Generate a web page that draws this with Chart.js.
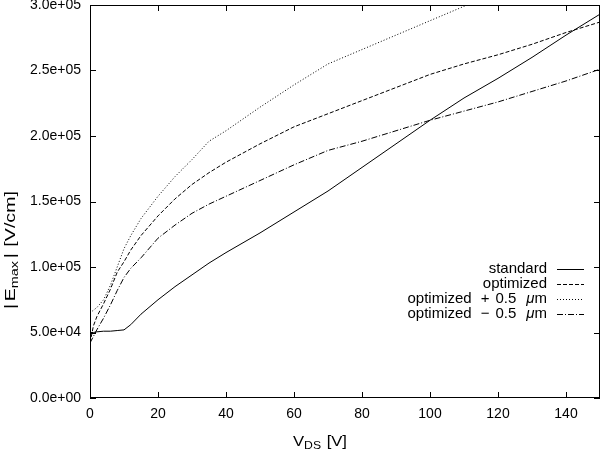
<!DOCTYPE html>
<html>
<head>
<meta charset="utf-8">
<title>Emax vs VDS</title>
<script src="https://cdn.jsdelivr.net/npm/chart.js@4.4.1/dist/chart.umd.min.js"></script>
<style>
    html, body { margin: 0; padding: 0; background: #fff; }
    #wrap { width: 601px; height: 453px; position: relative; }
</style>
</head>
<body>
<div id="wrap"><canvas id="emaxChart" width="601" height="453"></canvas></div>
<script>
// drain voltage grid (V) shared by all curves
const vds = [0, 1, 2, 4, 6, 8, 10, 12, 15, 20, 25, 30, 35, 40, 50, 60, 70, 80, 90, 100, 110, 120, 130, 140, 150];

// |Emax| in V/cm
const standard = [5.0e4, 5.0e4, 5.05e4, 5.1e4, 5.1e4, 5.15e4, 5.2e4, 5.6e4, 6.4e4, 7.5e4, 8.5e4, 9.4e4, 1.03e5, 1.11e5, 1.26e5, 1.42e5, 1.58e5, 1.76e5, 1.94e5, 2.12e5, 2.29e5, 2.44e5, 2.60e5, 2.77e5, 2.93e5];
const optimized = [4.2e4, 5.5e4, 6.2e4, 7.2e4, 8.3e4, 9.6e4, 1.04e5, 1.13e5, 1.24e5, 1.39e5, 1.52e5, 1.63e5, 1.72e5, 1.80e5, 1.94e5, 2.07e5, 2.17e5, 2.27e5, 2.37e5, 2.47e5, 2.55e5, 2.62e5, 2.70e5, 2.79e5, 2.87e5];
const optPlus = [6.5e4, 6.7e4, 6.9e4, 7.5e4, 8.6e4, 1.0e5, 1.14e5, 1.24e5, 1.37e5, 1.54e5, 1.69e5, 1.82e5, 1.96e5, 2.04e5, 2.22e5, 2.39e5, 2.55e5, 2.66e5, 2.77e5, 2.88e5, 2.99e5, 3.09e5, null, null, null];
const optMinus = [4.2e4, 4.7e4, 5.2e4, 6.1e4, 7.1e4, 8.2e4, 9.2e4, 9.9e4, 1.07e5, 1.22e5, 1.32e5, 1.41e5, 1.48e5, 1.54e5, 1.66e5, 1.78e5, 1.89e5, 1.96e5, 2.04e5, 2.12e5, 2.19e5, 2.26e5, 2.34e5, 2.42e5, 2.51e5];

const seriesNames = ['standard', 'optimized', 'optimized + 0.5 \u03bcm', 'optimized \u2212 0.5 \u03bcm'];
const xTicks = { min: 0, max: 150, step: 20 };
const yTicks = { min: 0, max: 3e5, step: 5e4 };

(function () {
    'use strict';

    const LABEL_FONT = '15px "Liberation Sans", Arial, sans-serif';
    const SUB_FONT = '11px "Liberation Sans", Arial, sans-serif';
    const dashes = [[], [4, 2], [1, 2], [6, 2, 1, 2]];

    function toPoints(ys) {
        return vds.map((v, i) => ({ x: v, y: ys[i] }));
    }

    // gnuplot style exponent: 2.5e+05
    function expLabel(v) {
        if (v === 0) return '0.0e+00';
        const parts = v.toExponential(1).split('e');
        const sign = parts[1][0];
        const digits = parts[1].slice(1).padStart(2, '0');
        return parts[0] + 'e' + sign + digits;
    }

    // text pieces [{t, font, dy}] or {gap}, drawn left to right; returns width
    function drawRuns(ctx, runs, x, y, measureOnly) {
        let w = 0;
        runs.forEach(r => {
            if (r.gap) { w += r.gap; return; }
            ctx.font = r.font;
            if (!measureOnly) ctx.fillText(r.t, x + w, y + (r.dy || 0));
            w += ctx.measureText(r.t).width;
        });
        return w;
    }

    // legend entry like "optimized + 0.5 μm" with math-ish spacing
    function legendRuns(name) {
        const m = name.match(/^(\S+) (\+|\u2212) ([\d.]+) \u03bc(m)$/);
        if (!m) return [{ t: name, font: LABEL_FONT }];
        return [
            { t: m[1], font: LABEL_FONT }, { gap: 9 },
            { t: m[2], font: LABEL_FONT }, { gap: 6 },
            { t: m[3], font: LABEL_FONT }, { gap: 10 },
            { t: '\u03bc', font: 'italic ' + LABEL_FONT },
            { t: m[4], font: LABEL_FONT }
        ];
    }

    const framePlugin = {
        id: 'gnuFrame',
        afterDatasetsDraw(chart) {
            const ctx = chart.ctx;
            const a = chart.chartArea;
            const xs = chart.scales.x;
            const ys = chart.scales.y;
            const tl = 6;

            ctx.save();
            ctx.strokeStyle = '#000';
            ctx.lineWidth = 1;
            ctx.strokeRect(a.left + 0.5, a.top + 0.5, a.right - a.left - 1, a.bottom - a.top - 1);

            // inward ticks on all four sides
            ctx.beginPath();
            xs.ticks.forEach(t => {
                const px = Math.round(xs.getPixelForValue(t.value)) + 0.5;
                ctx.moveTo(px, a.bottom); ctx.lineTo(px, a.bottom - tl);
                ctx.moveTo(px, a.top); ctx.lineTo(px, a.top + tl);
            });
            ys.ticks.forEach(t => {
                const py = Math.round(ys.getPixelForValue(t.value)) + 0.5;
                ctx.moveTo(a.left, py); ctx.lineTo(a.left + tl, py);
                ctx.moveTo(a.right, py); ctx.lineTo(a.right - tl, py);
            });
            ctx.stroke();

            // legend, right aligned text with line samples
            ctx.fillStyle = '#000';
            ctx.textBaseline = 'middle';
            const textRight = 547;
            const sampleX0 = 557, sampleX1 = 584;
            chart.data.datasets.forEach((ds, i) => {
                const y = 269 + i * 15;
                const runs = legendRuns(seriesNames[i]);
                const w = drawRuns(ctx, runs, 0, 0, true);
                drawRuns(ctx, runs, textRight - w, y, false);

                ctx.beginPath();
                ctx.setLineDash(ds.borderDash || []);
                ctx.moveTo(sampleX0, Math.round(y) + 0.5);
                ctx.lineTo(sampleX1, Math.round(y) + 0.5);
                ctx.stroke();
                ctx.setLineDash([]);
            });

            // x axis title: V_DS [V], stretched a little to match
            ctx.textBaseline = 'alphabetic';
            const xRuns = [
                { t: 'V', font: LABEL_FONT },
                { t: 'DS', font: SUB_FONT, dy: 3 },
                { gap: 5 },
                { t: '[V]', font: LABEL_FONT }
            ];
            const xw = drawRuns(ctx, xRuns, 0, 0, true);
            ctx.save();
            ctx.translate(320, 446);
            const xsx = 54 / xw;
            ctx.scale(xsx, 1);
            drawRuns(ctx, xRuns, -xw / 2, 0, false);
            ctx.restore();

            // y axis title: |E_max| [V/cm], rotated and stretched
            ctx.translate(15, 250);
            ctx.rotate(-Math.PI / 2);
            const yRuns = [
                { t: '|', font: LABEL_FONT }, { gap: 2 },
                { t: 'E', font: LABEL_FONT },
                { t: 'max', font: SUB_FONT, dy: 3 }, { gap: 2 },
                { t: '|', font: LABEL_FONT }, { gap: 5 },
                { t: '[V/cm]', font: LABEL_FONT }
            ];
            const yw = drawRuns(ctx, yRuns, 0, 0, true);
            ctx.scale(118 / yw, 1);
            drawRuns(ctx, yRuns, -yw / 2, 0, false);
            ctx.restore();
        }
    };

    function fixSize(prop, size) {
        return s => {
            s[prop] = size;
            s.paddingLeft = s.paddingRight = s.paddingTop = s.paddingBottom = 0;
        };
    }

    function init() {
        const lists = [standard, optimized, optPlus, optMinus];
        const datasets = lists.map((ys, i) => ({
            label: seriesNames[i],
            data: toPoints(ys),
            borderColor: '#000',
            borderWidth: 1,
            borderDash: dashes[i],
            pointRadius: 0,
            tension: 0,
            fill: false,
            spanGaps: false
        }));

        const tickFont = { family: '"Liberation Sans", Arial, sans-serif', size: 14 };

        new Chart(document.getElementById('emaxChart'), {
            type: 'line',
            data: { datasets: datasets },
            options: {
                responsive: false,
                animation: false,
                devicePixelRatio: 1,
                layout: { padding: { left: 0, right: 1, top: 5, bottom: 0 } },
                plugins: { legend: { display: false }, tooltip: { enabled: false } },
                scales: {
                    x: {
                        type: 'linear',
                        min: xTicks.min,
                        max: xTicks.max,
                        afterFit: fixSize('height', 55),
                        grid: { display: false, drawTicks: false },
                        border: { display: false },
                        ticks: {
                            stepSize: xTicks.step,
                            includeBounds: false,
                            padding: 8,
                            color: '#000',
                            maxRotation: 0,
                            font: tickFont
                        }
                    },
                    y: {
                        type: 'linear',
                        min: yTicks.min,
                        max: yTicks.max,
                        afterFit: fixSize('width', 90),
                        grid: { display: false, drawTicks: false },
                        border: { display: false },
                        ticks: {
                            stepSize: yTicks.step,
                            includeBounds: false,
                            padding: 9,
                            color: '#000',
                            font: tickFont,
                            callback: v => expLabel(v)
                        }
                    }
                }
            },
            plugins: [framePlugin]
        });
    }

    document.addEventListener('DOMContentLoaded', init);
})();
</script>
</body>
</html>
